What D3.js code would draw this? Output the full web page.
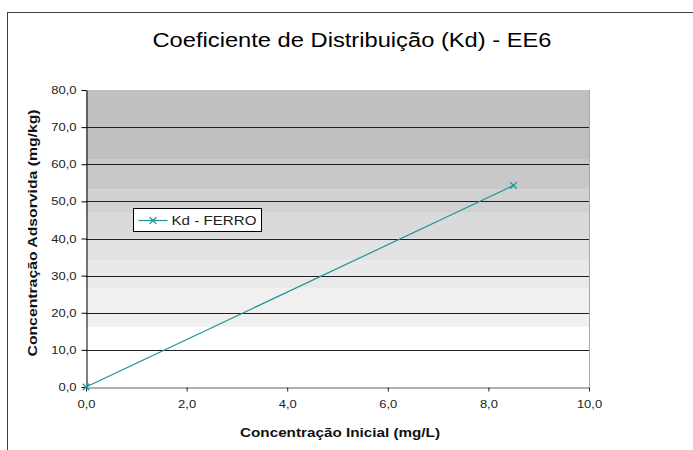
<!DOCTYPE html>
<html>
<head>
<meta charset="utf-8">
<script src="https://cdn.jsdelivr.net/npm/d3@7"></script>
<style>
  html, body { margin: 0; padding: 0; background: #fff; }
  svg { display: block; font-family: "Liberation Sans", Arial, sans-serif; }
</style>
</head>
<body>
<svg id="chart" width="693" height="450"></svg>
<script>
// Series: initial concentration (mg/L) vs adsorbed concentration (mg/kg)
const xValues = [0, 8.5];
const yValues = [0, 54.3];
const seriesName = "Kd - FERRO";

const xTicks = [0, 2, 4, 6, 8, 10];
const yTicks = [0, 10, 20, 30, 40, 50, 60, 70, 80];

// Stepped grey background of the plot area (value edges, top to bottom)
const bandEdges = [80, 61.4, 53.3, 46.9, 40.1, 34.2, 26.7, 16.2, 0];
const bandColors = ["#c0c0c0", "#c8c8c8", "#d1d1d1", "#dadada", "#e2e2e2", "#e9e9e9", "#f0f0f0", "#ffffff"];

const titleText = "Coeficiente de Distribuição (Kd) - EE6";
const xTitle = "Concentração Inicial (mg/L)";
const yTitle = "Concentração Adsorvida (mg/kg)";

const svg = d3.select("#chart");
const plot = { left: 86, right: 589, top: 90, bottom: 387 };

const x = d3.scaleLinear().domain([0, 10]).range([plot.left, plot.right]);
const y = d3.scaleLinear().domain([0, 80]).range([plot.bottom, plot.top]);

const ptBR = d3.formatLocale({ decimal: ",", thousands: ".", grouping: [3], currency: ["R$", ""] });
const fmt = ptBR.format(".1f");

// widen text horizontally to a given factor of its natural length
function stretch(sel, k) {
  sel.each(function () {
    const w = this.getComputedTextLength();
    d3.select(this).attr("textLength", w * k).attr("lengthAdjust", "spacingAndGlyphs");
  });
}

// chart frame
svg.append("rect")
  .attr("x", 7.5).attr("y", 12.5).attr("width", 720).attr("height", 460)
  .attr("fill", "none").attr("stroke", "#404040").attr("stroke-width", 1);

// background bands
const bands = d3.range(bandColors.length).map(i => ({ hi: bandEdges[i], lo: bandEdges[i + 1], c: bandColors[i] }));
svg.append("g").selectAll("rect").data(bands).join("rect")
  .attr("x", plot.left).attr("width", plot.right - plot.left)
  .attr("y", d => y(d.hi)).attr("height", d => y(d.lo) - y(d.hi))
  .attr("fill", d => d.c);

// right edge of plot area
svg.append("line")
  .attr("x1", plot.right + 0.5).attr("x2", plot.right + 0.5)
  .attr("y1", plot.top).attr("y2", plot.bottom)
  .attr("stroke", "#a8a8a8");

// horizontal gridlines
svg.append("g").selectAll("line").data(yTicks.filter(v => v > 0 && v < 80)).join("line")
  .attr("x1", plot.left).attr("x2", plot.right)
  .attr("y1", d => Math.round(y(d)) + 0.5).attr("y2", d => Math.round(y(d)) + 0.5)
  .attr("stroke", "#202020").attr("stroke-width", 1);

// axes
const xAxis = svg.append("g")
  .attr("transform", `translate(0,${plot.bottom + 0.5})`)
  .call(d3.axisBottom(x).tickValues(xTicks).tickFormat(fmt).tickSizeInner(4).tickSizeOuter(0).tickPadding(9));
xAxis.select(".domain").attr("stroke", "#606060");
xAxis.selectAll(".tick line").attr("stroke", "#202020");
xAxis.selectAll(".tick text").attr("font-size", 11).attr("fill", "#222")
  .attr("font-family", "Liberation Sans, Arial, sans-serif");

const yAxis = svg.append("g")
  .attr("transform", `translate(${plot.left + 0.5},0)`)
  .call(d3.axisLeft(y).tickValues(yTicks).tickFormat(fmt).tickSizeInner(5).tickSizeOuter(0).tickPadding(5));
yAxis.select(".domain").attr("stroke", "#000");
yAxis.selectAll(".tick line").attr("stroke", "#000");
yAxis.selectAll(".tick text").attr("font-size", 11).attr("fill", "#222")
  .attr("font-family", "Liberation Sans, Arial, sans-serif");

stretch(xAxis.selectAll(".tick text"), 1.18);
stretch(yAxis.selectAll(".tick text"), 1.18);

// data line and markers
const lineColor = "#1f9494";
const pts = xValues.map((v, i) => [v, yValues[i]]);
svg.append("path")
  .datum(pts)
  .attr("fill", "none").attr("stroke", lineColor).attr("stroke-width", 1.2)
  .attr("d", d3.line().x(d => x(d[0])).y(d => y(d[1])));

const cross = d3.symbol().type(d3.symbolX).size(30);
svg.append("g").selectAll("path").data(pts).join("path")
  .attr("transform", d => `translate(${x(d[0])},${y(d[1])})`)
  .attr("d", cross)
  .attr("fill", "none").attr("stroke", lineColor).attr("stroke-width", 1.2);

// legend
const lg = svg.append("g").attr("transform", "translate(133.5,208.5)");
lg.append("rect").attr("width", 128).attr("height", 23)
  .attr("fill", "#fff").attr("stroke", "#000");
lg.append("line").attr("x1", 5).attr("x2", 34).attr("y1", 12).attr("y2", 12)
  .attr("stroke", lineColor).attr("stroke-width", 1.2);
lg.append("path").attr("transform", "translate(19.5,12)").attr("d", cross)
  .attr("fill", "none").attr("stroke", lineColor).attr("stroke-width", 1.2);
lg.append("text").attr("x", 38).attr("y", 16.5)
  .attr("font-size", 13).attr("fill", "#222").text(seriesName)
  .attr("textLength", 85).attr("lengthAdjust", "spacingAndGlyphs");

// titles
svg.append("text")
  .attr("x", 352).attr("y", 47).attr("text-anchor", "middle")
  .attr("font-size", 20).attr("fill", "#000").text(titleText)
  .attr("textLength", 399).attr("lengthAdjust", "spacingAndGlyphs");

svg.append("text")
  .attr("x", 340).attr("y", 437).attr("text-anchor", "middle")
  .attr("font-size", 13).attr("font-weight", "bold").attr("fill", "#111").text(xTitle)
  .attr("textLength", 200).attr("lengthAdjust", "spacingAndGlyphs");

svg.append("text")
  .attr("transform", "translate(37,233) rotate(-90)").attr("text-anchor", "middle")
  .attr("font-size", 13).attr("font-weight", "bold").attr("fill", "#111").text(yTitle)
  .attr("textLength", 247).attr("lengthAdjust", "spacingAndGlyphs");
</script>
</body>
</html>
